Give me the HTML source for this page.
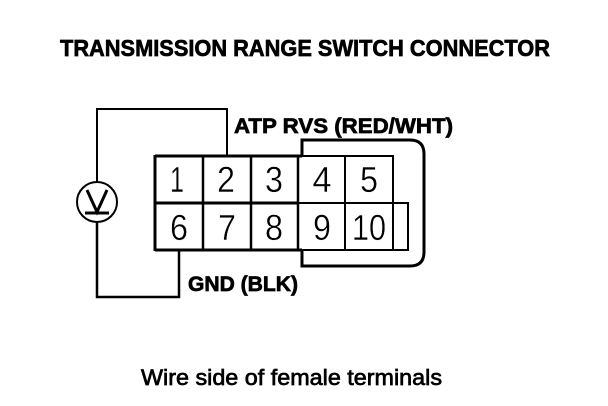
<!DOCTYPE html>
<html>
<head>
<meta charset="utf-8">
<style>
html,body{margin:0;padding:0;background:#fff;}
svg{display:block;}
text{font-family:"Liberation Sans",sans-serif;fill:#000;}
.b{font-weight:bold;stroke:#000;stroke-width:.7px;}
.n{font-size:36px;text-anchor:middle;stroke:#fff;stroke-width:.4px;}
</style>
</head>
<body>
<svg width="608" height="406" viewBox="0 0 608 406" xmlns="http://www.w3.org/2000/svg">
<rect width="608" height="406" fill="#fff"/>
<text class="b" x="60" y="56" font-size="23.5" textLength="490" lengthAdjust="spacingAndGlyphs">TRANSMISSION RANGE SWITCH CONNECTOR</text>
<text class="b" x="234" y="133" font-size="21" textLength="219" lengthAdjust="spacingAndGlyphs">ATP RVS (RED/WHT)</text>
<text class="b" x="188" y="291" font-size="21" textLength="110" lengthAdjust="spacingAndGlyphs">GND (BLK)</text>
<text x="141" y="385" font-size="22" stroke="#000" stroke-width=".7" textLength="301" lengthAdjust="spacingAndGlyphs">Wire side of female terminals</text>

<g fill="none" stroke="#000" stroke-width="2">
<path d="M97 182V109H227V156" />
<path d="M97 222V297H179V250" stroke-width="2.5"/>
<circle cx="97" cy="202" r="20"/>
<path d="M87 190L97 212L107 190" stroke-width="3"/>
<path d="M85 213H109" stroke-width="3"/>
</g>
<g fill="none" stroke="#000">
<path d="M155 156H393V203M155 203H408V250H155Z" stroke-width="2"/>
<path d="M155 155V251" stroke-width="3"/>
<path d="M155 156H302M155 203H298M155 250H302" stroke-width="3"/>
<path d="M203 156V250M251 156V250M298 156V250" stroke-width="2.5"/>
<path d="M345 156V250M393 203V250" stroke-width="2"/>
<path d="M302 156V140H410Q424 140 424 154V252Q424 266 410 266H302V250" stroke-width="3"/>
</g>
<text class="n" x="177" y="192" textLength="14" lengthAdjust="spacingAndGlyphs">1</text>
<text class="n" x="226" y="192" textLength="18" lengthAdjust="spacingAndGlyphs">2</text>
<text class="n" x="274" y="192" textLength="18" lengthAdjust="spacingAndGlyphs">3</text>
<text class="n" x="322" y="192" textLength="19" lengthAdjust="spacingAndGlyphs">4</text>
<text class="n" x="369" y="192" textLength="18" lengthAdjust="spacingAndGlyphs">5</text>
<text class="n" x="179" y="240" textLength="18" lengthAdjust="spacingAndGlyphs">6</text>
<text class="n" x="227" y="240" textLength="18" lengthAdjust="spacingAndGlyphs">7</text>
<text class="n" x="274" y="240" textLength="18" lengthAdjust="spacingAndGlyphs">8</text>
<text class="n" x="322" y="240" textLength="18" lengthAdjust="spacingAndGlyphs">9</text>
<text class="n" x="369" y="240" textLength="34" lengthAdjust="spacingAndGlyphs">10</text>
</svg>
</body>
</html>
